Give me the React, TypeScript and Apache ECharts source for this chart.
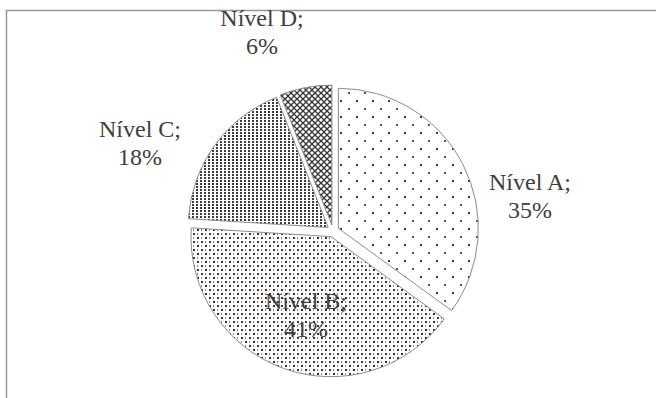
import React, { useEffect, useRef } from "react";
import * as echarts from "echarts";

const categories = ["Nível A", "Nível B", "Nível C", "Nível D"];
const values = [35, 41, 18, 6];

// label block centres (px), one per category
const labelCenters: [number, number][] = [
  [530, 196],
  [306, 315],
  [140, 143],
  [262, 32],
];

const PIE_CENTER: [number, number] = [333, 231];
const PIE_RADIUS = 140;
const EXPLODE = 6;

type Tile = { url: string; w: number; h: number };

function makeTile(w: number, h: number, draw: (ctx: CanvasRenderingContext2D) => void): Tile {
  const c = document.createElement("canvas");
  c.width = w;
  c.height = h;
  const ctx = c.getContext("2d")!;
  ctx.fillStyle = "#ffffff";
  ctx.fillRect(0, 0, w, h);
  draw(ctx);
  return { url: c.toDataURL("image/png"), w, h };
}

function buildTiles(): Tile[] {
  // sparse diamond dots
  const a = makeTile(16, 16, (ctx) => {
    ctx.fillStyle = "#3a3a3a";
    ctx.fillRect(4, 4, 2, 2);
    ctx.fillStyle = "#555555";
    ctx.fillRect(12, 12, 2, 2);
  });
  // denser dots
  const b = makeTile(8, 8, (ctx) => {
    ctx.fillStyle = "#333333";
    ctx.fillRect(1, 1, 2, 2);
    ctx.fillRect(5, 5, 2, 2);
    ctx.fillStyle = "#8a8a8a";
    ctx.fillRect(5, 1, 1, 2);
    ctx.fillRect(1, 5, 1, 2);
  });
  // vertical dotted stripes
  const c = makeTile(4, 3, (ctx) => {
    ctx.fillStyle = "#3a3a3a";
    ctx.fillRect(0, 0, 2, 2);
  });
  // diagonal trellis
  const d = makeTile(6, 6, (ctx) => {
    ctx.strokeStyle = "#383838";
    ctx.lineWidth = 1.25;
    for (let k = -6; k <= 6; k += 6) {
      ctx.beginPath();
      ctx.moveTo(k - 6, -6);
      ctx.lineTo(k + 12, 12);
      ctx.stroke();
      ctx.beginPath();
      ctx.moveTo(k + 12, -6);
      ctx.lineTo(k - 6, 12);
      ctx.stroke();
    }
  });
  return [a, b, c, d];
}

export default function App() {
  const ref = useRef<HTMLDivElement>(null);

  useEffect(() => {
    if (!ref.current) return;
    const chart = echarts.init(ref.current, null, { renderer: "svg" });
    const tiles = buildTiles();
    const total = values.reduce((s, v) => s + v, 0);

    // one pie per slice so that each slice can be pulled out along its bisector
    let cum = 0;
    const series = categories.map((_, i) => {
      const mid = ((cum + values[i] / 2) / total) * 2 * Math.PI;
      cum += values[i];
      const cx = PIE_CENTER[0] + Math.sin(mid) * EXPLODE;
      const cy = PIE_CENTER[1] - Math.cos(mid) * EXPLODE;
      return {
        type: "pie",
        center: [cx, cy],
        radius: PIE_RADIUS,
        startAngle: 90,
        clockwise: true,
        silent: true,
        emphasis: { disabled: true },
        avoidLabelOverlap: false,
        label: {
          show: true,
          formatter: "{b};\n{d}%",
          fontFamily: "'Liberation Serif', 'Times New Roman', serif",
          fontSize: 24,
          lineHeight: 28,
          color: "#404040",
          align: "center",
        },
        labelLine: { show: false },
        labelLayout: () => ({
          x: labelCenters[i][0],
          y: labelCenters[i][1],
          align: "center",
          verticalAlign: "middle",
        }),
        data: categories.map((name, j) =>
          j === i
            ? {
                name,
                value: values[j],
                itemStyle: {
                  color: {
                    image: tiles[j].url,
                    repeat: "repeat",
                    imageWidth: tiles[j].w,
                    imageHeight: tiles[j].h,
                  } as any,
                  borderColor: "#8c8c8c",
                  borderWidth: 1,
                },
              }
            : {
                name,
                value: values[j],
                itemStyle: { color: "rgba(0,0,0,0)", borderWidth: 0 },
                label: { show: false },
              }
        ),
      };
    });

    chart.setOption({
      animation: false,
      backgroundColor: "#ffffff",
      graphic: [
        {
          type: "rect",
          shape: { x: 6.5, y: 10.5, width: 700, height: 500 },
          style: { fill: "none", stroke: "#999999", lineWidth: 1.5 },
          silent: true,
        },
      ],
      series,
    });

    return () => chart.dispose();
  }, []);

  return (
    <div
      ref={ref}
      style={{ position: "fixed", left: 0, top: 0, width: 656, height: 398 }}
    />
  );
}
